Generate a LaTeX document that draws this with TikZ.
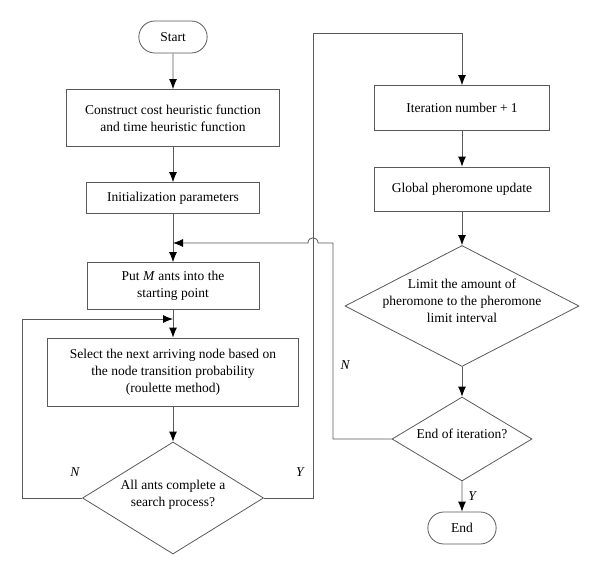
\documentclass[tikz,border=0pt]{standalone}
\usepackage{fontspec}
\setmainfont{Liberation Serif}
\usetikzlibrary{shapes.geometric,shapes.misc,arrows.meta}
\newcommand{\dlines}[1]{\makebox[0pt]{\smash{\begin{tabular}{@{}c@{}}#1\end{tabular}}}}

\begin{document}
\begin{tikzpicture}[x=1pt,y=-1pt,>={Latex[length=10pt,width=8pt,color=black]},
	font=\fontsize{13.5}{17}\selectfont,
	line/.style={draw=black!65,line width=0.8pt},
	box/.style={line,rectangle,align=center,inner sep=2pt},
	term/.style={line,rounded rectangle,minimum width=75pt,minimum height=32pt},
	decide/.style={line,diamond,inner sep=0pt},
	flow/.style={line,->},
	yn/.style={font=\fontsize{13.5}{16}\selectfont\itshape}]
		\useasboundingbox (0,0) rectangle (600,576);
		% left column
		\node[term] (start) at (173,37) {Start};
		\node[box,minimum width=213pt,minimum height=57pt] (cons) at (173,118) {Construct cost heuristic function\\and time heuristic function};
		\node[box,minimum width=173pt,minimum height=31pt] (init) at (173,198) {Initialization parameters};
		\node[box,minimum width=172pt,minimum height=47pt] (put) at (173,286) {Put \textit{M} ants into the\\starting point};
		\node[box,minimum width=251pt,minimum height=68pt] (sel) at (173,372) {Select the next arriving node based on\\the node transition probability\\(roulette method)};
		\node[decide,minimum width=181pt,minimum height=112pt] (all) at (173,498) {\dlines{All ants complete a\\search process?}};
		% right column
		\node[box,minimum width=175pt,minimum height=45pt] (iter) at (462,108) {Iteration number + 1};
		\node[box,minimum width=175pt,minimum height=44pt] (glob) at (462,189) {Global pheromone update};
		\node[decide,minimum width=234pt,minimum height=121pt] (lim) at (462,306) {\dlines{Limit the amount of\\pheromone to the pheromone\\limit interval}};
		\node[decide,minimum width=140pt,minimum height=84pt] (eoi) at (462,439) {\dlines{End of iteration?}};
		\node[term] (end) at (462,528) {End};
		% bends and joins
		\coordinate (j1) at (173,319);
		\coordinate (j2) at (173,243);
		\coordinate (lft) at (22,319);
		\coordinate (top) at (313,33);
		\coordinate (nrt) at (333,243);
		\coordinate (hop) at (313,243);
		\draw[flow] (start) -- (cons);
		\draw[flow] (cons) -- (init);
		\draw[flow] (init) -- (put);
		\draw[flow] (put) -- (sel);
		\draw[flow] (sel) -- (all);
		\draw[flow] (all.west) -| (lft) -- (j1);
		\draw[flow] (all.east) -| (top) -| (iter.north);
		\draw[flow] (iter) -- (glob);
		\draw[flow] (glob) -- (lim);
		\draw[flow] (lim) -- (eoi);
		\draw[flow] (eoi) -- (end);
		\draw[flow] (eoi.west) -| (nrt) -- ([xshift=5pt]hop) .. controls ([xshift=5pt,yshift=7pt]hop) and ([xshift=-5pt,yshift=7pt]hop) .. ([xshift=-5pt]hop) -- (j2);
		\node[yn] (nall) at (75,472) {N};
		\node[yn] (yall) at (300,472) {Y};
		\node[yn] (neoi) at (345,365) {N};
		\node[yn] (yeoi) at (472,496) {Y};
\end{tikzpicture}
\end{document}
